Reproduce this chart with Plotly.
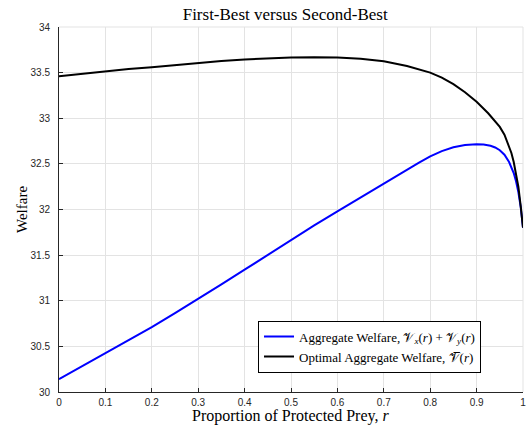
import plotly.graph_objects as go

r_blue = [0.0, 0.05, 0.1, 0.15, 0.2, 0.25, 0.3, 0.35, 0.4, 0.45, 0.5, 0.55, 0.6, 0.65, 0.7, 0.75,
          0.775, 0.8, 0.825, 0.85, 0.875, 0.9, 0.915, 0.93, 0.94, 0.95, 0.96, 0.97, 0.98, 0.985, 0.99, 0.995, 1.0]
v_blue = [30.14, 30.283, 30.425, 30.567, 30.71, 30.865, 31.02, 31.18, 31.34, 31.505, 31.67, 31.826,
          31.98, 32.133, 32.285, 32.437, 32.512, 32.582, 32.64, 32.682, 32.706, 32.716, 32.712, 32.698,
          32.68, 32.65, 32.60, 32.52, 32.40, 32.31, 32.19, 32.03, 31.8]

r_black = [0.0, 0.05, 0.1, 0.15, 0.2, 0.25, 0.3, 0.35, 0.4, 0.45, 0.5, 0.55, 0.6, 0.65, 0.7, 0.75,
           0.8, 0.825, 0.85, 0.875, 0.9, 0.925, 0.94, 0.95, 0.96, 0.97, 0.975, 0.98, 0.985, 0.99, 0.995, 1.0]
v_black = [33.46, 33.489, 33.515, 33.539, 33.56, 33.585, 33.607, 33.628, 33.645, 33.657, 33.665, 33.668,
           33.665, 33.652, 33.625, 33.572, 33.50, 33.445, 33.373, 33.285, 33.18, 33.055, 32.97, 32.905,
           32.82, 32.70, 32.62, 32.52, 32.40, 32.25, 32.04, 31.8]

x_ticks = [0, 0.1, 0.2, 0.3, 0.4, 0.5, 0.6, 0.7, 0.8, 0.9, 1]
x_labels = ["0", "0.1", "0.2", "0.3", "0.4", "0.5", "0.6", "0.7", "0.8", "0.9", "1"]
y_ticks = [30, 30.5, 31, 31.5, 32, 32.5, 33, 33.5, 34]
y_labels = ["30", "30.5", "31", "31.5", "32", "32.5", "33", "33.5", "34"]

serif = "Liberation Serif, DejaVu Serif, serif"
sans = "Liberation Sans, Arial, sans-serif"

fig = go.Figure()
fig.add_trace(go.Scatter(
    x=r_blue, y=v_blue, mode="lines", line=dict(color="#0000ff", width=2),
    name="Aggregate Welfare, 𝒱<sub><i>x</i></sub>(<i>r</i>) + 𝒱<sub><i>y</i></sub>(<i>r</i>)"))
fig.add_trace(go.Scatter(
    x=r_black, y=v_black, mode="lines", line=dict(color="#000000", width=2),
    name="Optimal Aggregate Welfare, 𝒱\u0305(<i>r</i>)"))

fig.update_layout(
    width=532, height=430,
    margin=dict(l=59, r=9, t=27, b=38),
    paper_bgcolor="white", plot_bgcolor="white",
    title=dict(text="First-Best versus Second-Best", x=0.536, xanchor="center", y=0.967, yanchor="middle",
               font=dict(family=serif, size=17, color="#000")),
    xaxis=dict(range=[0, 1], tickvals=x_ticks, ticktext=x_labels, showgrid=True, gridcolor="#e3e3e3",
               gridwidth=1, showline=True, linecolor="#262626", linewidth=1, ticks="inside", ticklen=4,
               tickcolor="#262626", tickfont=dict(family=sans, size=10, color="#262626"), zeroline=False,
               automargin=False, ticklabelstandoff=1),
    yaxis=dict(range=[30, 34], tickvals=y_ticks, ticktext=y_labels, showgrid=True, gridcolor="#e3e3e3",
               gridwidth=1, showline=True, linecolor="#262626", linewidth=1, ticks="inside", ticklen=4,
               tickcolor="#262626", tickfont=dict(family=sans, size=10, color="#262626"), zeroline=False,
               automargin=False, ticklabelstandoff=6),
    legend=dict(x=0.9095, xanchor="right", y=0.053, yanchor="bottom", bgcolor="white",
                bordercolor="#000", borderwidth=1, font=dict(family=serif, size=13, color="#000"),
                tracegroupgap=0, itemwidth=30),
    showlegend=True,
)
fig.add_annotation(text="Proportion of Protected Prey, <i>r</i>", xref="paper", yref="paper",
                   x=0.498, y=-0.066, xanchor="center", yanchor="middle", showarrow=False,
                   font=dict(family=serif, size=16, color="#000"))
fig.add_annotation(text="Welfare", xref="paper", yref="paper", textangle=-90,
                   x=-0.0797, y=0.4986, xanchor="center", yanchor="middle", showarrow=False,
                   font=dict(family=serif, size=15, color="#000"))
fig.add_shape(type="line", xref="paper", yref="paper", x0=0, x1=1, y0=1, y1=1, line=dict(color="#e3e3e3", width=1), layer="below")
fig.add_shape(type="line", xref="paper", yref="paper", x0=1, x1=1, y0=0, y1=1, line=dict(color="#e3e3e3", width=1), layer="below")

fig.write_html("out.html", config={"displayModeBar": False},
               post_script="document.body.style.margin='0';document.body.style.overflow='hidden';")
